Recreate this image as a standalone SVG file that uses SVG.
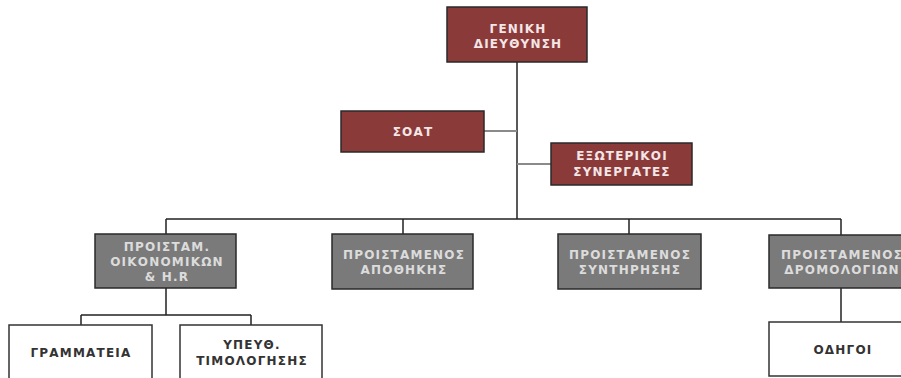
<svg xmlns="http://www.w3.org/2000/svg" width="901" height="378" viewBox="0 0 901 378">
<style>
.red{fill:#8b3a3a;stroke:#2a2a2a;stroke-width:1.5}
.grey{fill:#7a7a7a;stroke:#2a2a2a;stroke-width:1.5}
.white{fill:#ffffff;stroke:#333333;stroke-width:1.5}
text{font-family:"DejaVu Sans",Verdana,sans-serif;font-size:12px;font-weight:bold;letter-spacing:1.2px;text-anchor:middle}
.tr{fill:#f4e6e6}
.tg{fill:#dcdcdc}
.tw{fill:#333333}
.ln{stroke:#222;stroke-width:1.5;fill:none}
.ls{stroke:#8a8a8a;stroke-width:2;fill:none}
</style>
<rect width="901" height="378" fill="#ffffff"/>
<g id="connectors">
<path class="ln" d="M517,62 V219"/>
<path class="ls" d="M484,131 H517"/>
<path class="ls" d="M517,164 H551"/>
<path class="ln" d="M166,219 H841 M166,219 V234 M403,219 V234 M629,219 V234 M841,219 V235"/>
<path class="ln" d="M166,288 V315 M81,315 H251 M81,315 V325 M251,315 V325"/>
<path class="ln" d="M841,288 V322"/>
</g>
<g id="geniki">
<rect class="red" x="447" y="7" width="140" height="55"/>
<text class="tr" x="518" y="33">ΓΕΝΙΚΗ</text>
<text class="tr" x="518" y="48">ΔΙΕΥΘΥΝΣΗ</text>
</g>
<g id="soat">
<rect class="red" x="341" y="111" width="143" height="41"/>
<text class="tr" x="413" y="136">ΣΟΑΤ</text>
</g>
<g id="exoterikoi">
<rect class="red" x="551" y="143" width="141" height="42"/>
<text class="tr" x="622" y="160">ΕΞΩΤΕΡΙΚΟΙ</text>
<text class="tr" x="622" y="176">ΣΥΝΕΡΓΑΤΕΣ</text>
</g>
<g id="oikonomikon">
<rect class="grey" x="95" y="234" width="141" height="54"/>
<text class="tg" x="167" y="251">ΠΡΟΙΣΤΑΜ.</text>
<text class="tg" x="167" y="266">ΟΙΚΟΝΟΜΙΚΩΝ</text>
<text class="tg" x="167" y="281">&amp; Η.R</text>
</g>
<g id="apothikis">
<rect class="grey" x="332" y="234" width="141" height="55"/>
<text class="tg" x="404" y="259">ΠΡΟΙΣΤΑΜΕΝΟΣ</text>
<text class="tg" x="404" y="274">ΑΠΟΘΗΚΗΣ</text>
</g>
<g id="syntirisis">
<rect class="grey" x="558" y="234" width="143" height="55"/>
<text class="tg" x="630" y="259">ΠΡΟΙΣΤΑΜΕΝΟΣ</text>
<text class="tg" x="630" y="274">ΣΥΝΤΗΡΗΣΗΣ</text>
</g>
<g id="dromologion">
<rect class="grey" x="769" y="235" width="143" height="53"/>
<text class="tg" x="842" y="259">ΠΡΟΙΣΤΑΜΕΝΟΣ</text>
<text class="tg" x="842" y="274">ΔΡΟΜΟΛΟΓΙΩΝ</text>
</g>
<g id="grammateia">
<rect class="white" x="9" y="325" width="143" height="60"/>
<text class="tw" x="81" y="357">ΓΡΑΜΜΑΤΕΙΑ</text>
</g>
<g id="timologisis">
<rect class="white" x="180" y="325" width="142" height="60"/>
<text class="tw" x="252" y="349">ΥΠΕΥΘ.</text>
<text class="tw" x="252" y="365">ΤΙΜΟΛΟΓΗΣΗΣ</text>
</g>
<g id="odigoi">
<rect class="white" x="769" y="322" width="143" height="54"/>
<text class="tw" x="843" y="354">ΟΔΗΓΟΙ</text>
</g>
</svg>
